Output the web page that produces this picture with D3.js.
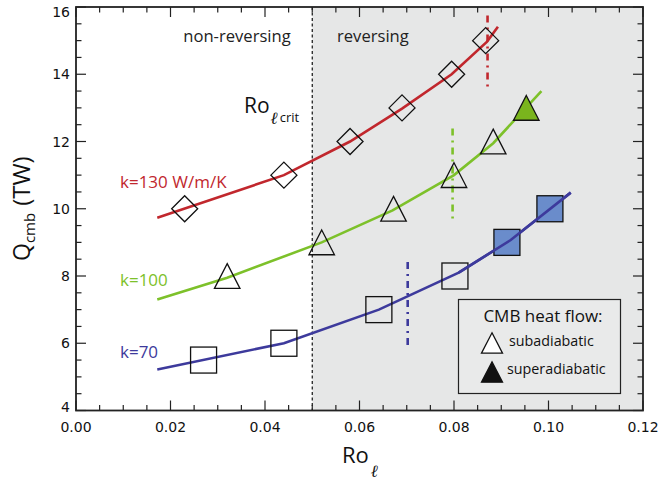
<!DOCTYPE html>
<html>
<head>
<meta charset="utf-8">
<script src="https://cdn.jsdelivr.net/npm/d3@7"></script>
<style>
  body { margin: 0; background: #fff; }
  text { font-family: "Open Sans", sans-serif; }
  .tick-label { font-family: "DejaVu Sans", sans-serif; font-size: 14px; fill: #111; }
</style>
</head>
<body>
<svg id="chart" width="659" height="481"></svg>
<script>
// series data
var k130Pts = [[0.023, 10], [0.044, 11], [0.058, 12], [0.069, 13], [0.0795, 14], [0.0867, 15]];
var k130Line = [[0.0172, 9.73], [0.044, 11.0], [0.058, 12.0], [0.069, 12.98], [0.0795, 14.0], [0.087, 14.97], [0.0893, 15.41]];

var k100Pts = [[0.032, 8], [0.052, 9], [0.0672, 10], [0.080, 11], [0.0883, 12]];
var k100Super = [[0.0953, 13]];
var k100Line = [[0.0172, 7.3], [0.032, 7.95], [0.052, 9.0], [0.067, 9.95], [0.080, 11.0], [0.0883, 11.95], [0.0985, 13.5]];

var k70Pts = [[0.027, 5.5], [0.044, 6.0], [0.0641, 7.0], [0.0802, 8.0]];
var k70Super = [[0.0912, 9.0], [0.1003, 10.0]];
var k70Line = [[0.0172, 5.22], [0.044, 6.0], [0.0641, 7.0], [0.081, 8.1], [0.092, 9.07], [0.1047, 10.48]];

// critical Ro_l for each k (dash-dot markers): x, y from, y to
var critLines = [
  {x: 0.0871, y0: 13.62, y1: 15.75, color: '#c1272d'},
  {x: 0.0797, y0: 9.58, y1: 12.39, color: '#7dc12a'},
  {x: 0.0702, y0: 5.8, y1: 8.42, color: '#3d3a9c'}
];

var xTicks = [0.00, 0.02, 0.04, 0.06, 0.08, 0.10, 0.12];
var yTicks = [4, 6, 8, 10, 12, 14, 16];
var roCrit = 0.05;

var red = '#c1272d', green = '#7dc12a', blue = '#3d3a9c';

var svg = d3.select('#chart');
var pL = 76, pR = 643, pT = 7, pB = 410.5;

var x = d3.scaleLinear().domain([0, 0.12]).range([pL, pR]);
var y = d3.scaleLinear().domain([4, 16]).range([pB, pT]);

// shaded reversing region
svg.append('rect')
  .attr('x', x(roCrit)).attr('y', pT)
  .attr('width', x(0.12) - x(roCrit)).attr('height', pB - pT)
  .style('fill', '#e6e7e7');

svg.append('line')
  .attr('x1', x(roCrit)).attr('x2', x(roCrit))
  .attr('y1', pT).attr('y2', pB)
  .style('stroke', '#111').style('stroke-width', 1.2)
  .style('stroke-dasharray', '3,2.5');

// axes, ticks pointing inward on all four sides
var xMinor = d3.range(0, 0.1201, 0.005);
var yMinor = d3.range(4, 16.01, 0.5);

function tickLen(v, step) {
  return Math.abs(v / step - Math.round(v / step)) < 1e-6 ? 10 : 5.5;
}

var axisG = svg.append('g').style('stroke', '#222').style('stroke-width', 1.2);
xMinor.forEach(function(v) {
  var l = tickLen(v, 0.02);
  axisG.append('line').attr('x1', x(v)).attr('x2', x(v)).attr('y1', pB).attr('y2', pB - l);
  axisG.append('line').attr('x1', x(v)).attr('x2', x(v)).attr('y1', pT).attr('y2', pT + l);
});
yMinor.forEach(function(v) {
  var l = tickLen(v, 2);
  axisG.append('line').attr('y1', y(v)).attr('y2', y(v)).attr('x1', pL).attr('x2', pL + l);
  axisG.append('line').attr('y1', y(v)).attr('y2', y(v)).attr('x1', pR).attr('x2', pR - l);
});
axisG.append('rect')
  .attr('x', pL).attr('y', pT).attr('width', pR - pL).attr('height', pB - pT)
  .style('fill', 'none').style('stroke-width', 1.8);

svg.selectAll('.xt').data(xTicks).enter().append('text')
  .attr('class', 'tick-label')
  .attr('x', function(d) { return x(d); })
  .attr('y', 432)
  .attr('text-anchor', 'middle')
  .text(function(d) { return d3.format('.2f')(d); });

// end labels are nudged inside the frame, as in the original
svg.selectAll('.yt').data(yTicks).enter().append('text')
  .attr('class', 'tick-label')
  .attr('x', 70)
  .attr('y', function(d) { return Math.min(Math.max(y(d) + 5, 17), 412); })
  .attr('text-anchor', 'end')
  .text(function(d) { return d; });

// fitted lines
var line = d3.line().x(function(d) { return x(d[0]); }).y(function(d) { return y(d[1]); });
[[k130Line, red], [k100Line, green], [k70Line, blue]].forEach(function(s) {
  svg.append('path').datum(s[0]).attr('d', line)
    .style('fill', 'none').style('stroke', s[1]).style('stroke-width', 2.6);
});

// dash-dot critical markers
svg.selectAll('.crit').data(critLines).enter().append('line')
  .attr('x1', function(d) { return x(d.x); }).attr('x2', function(d) { return x(d.x); })
  .attr('y1', function(d) { return y(d.y1); }).attr('y2', function(d) { return y(d.y0); })
  .style('stroke', function(d) { return d.color; })
  .style('stroke-width', 2.6)
  .style('stroke-dasharray', '7,5,2,5');

// markers
var mk = svg.append('g');
var triPath = function(cx, cy, s) {
  var h = s * 0.97;
  return 'M' + cx + ',' + (cy - h / 2) + 'L' + (cx + s / 2) + ',' + (cy + h / 2) + 'L' + (cx - s / 2) + ',' + (cy + h / 2) + 'Z';
};
mk.selectAll('.dia').data(k130Pts).enter().append('path')
  .attr('d', function(d) {
    var cx = x(d[0]), cy = y(d[1]), r = 13;
    return 'M' + cx + ',' + (cy - r) + 'L' + (cx + r) + ',' + cy + 'L' + cx + ',' + (cy + r) + 'L' + (cx - r) + ',' + cy + 'Z';
  })
  .style('fill', 'none').style('stroke', '#111').style('stroke-width', 1.3);

mk.selectAll('.tri').data(k100Pts).enter().append('path')
  .attr('d', function(d) { return triPath(x(d[0]), y(d[1]), 25.5); })
  .style('fill', 'none').style('stroke', '#111').style('stroke-width', 1.3);
mk.selectAll('.triS').data(k100Super).enter().append('path')
  .attr('d', function(d) { return triPath(x(d[0]), y(d[1]), 25.5); })
  .style('fill', '#7ab51d').style('stroke', '#111').style('stroke-width', 1.3);

mk.selectAll('.sq').data(k70Pts).enter().append('rect')
  .attr('x', function(d) { return x(d[0]) - 13; }).attr('y', function(d) { return y(d[1]) - 13; })
  .attr('width', 26).attr('height', 26)
  .style('fill', 'none').style('stroke', '#111').style('stroke-width', 1.3);
mk.selectAll('.sqS').data(k70Super).enter().append('rect')
  .attr('x', function(d) { return x(d[0]) - 13; }).attr('y', function(d) { return y(d[1]) - 13; })
  .attr('width', 26).attr('height', 26)
  .style('fill', '#6a8ccb').style('stroke', '#111').style('stroke-width', 1.3);

// redraw the superadiabatic-square line segment over the fill
svg.append('path').datum(k70Line.slice(3)).attr('d', line)
  .style('fill', 'none').style('stroke', blue).style('stroke-width', 2.6);

// labels
svg.append('text').attr('x', 237).attr('y', 42).attr('text-anchor', 'middle')
  .style('font-size', '16.6px').style('fill', '#222').text('non-reversing');
svg.append('text').attr('x', 337).attr('y', 42)
  .style('font-size', '16.6px').style('fill', '#222').text('reversing');

var rc = svg.append('text').attr('x', 244).attr('y', 113).style('fill', '#111');
rc.append('tspan').style('font-size', '21px').text('Ro');
rc.append('tspan').attr('dy', 11).attr('dx', 1).style('font-size', '17px').style('font-style', 'italic')
  .style('font-family', 'DejaVu Serif, serif').text('ℓ');
rc.append('tspan').attr('dy', -2).attr('dx', 2).style('font-size', '13px').text('crit');

svg.append('text').attr('x', 120).attr('y', 188).style('font-size', '17px').style('fill', red).text('k=130 W/m/K');
svg.append('text').attr('x', 120).attr('y', 286).style('font-size', '17px').style('fill', green).text('k=100');
svg.append('text').attr('x', 120).attr('y', 358).style('font-size', '17px').style('fill', blue).text('k=70');

// axis titles
var xl = svg.append('text').attr('x', 342).attr('y', 463).style('fill', '#111');
xl.append('tspan').style('font-size', '22px').text('Ro');
xl.append('tspan').attr('dy', 14).attr('dx', 2).style('font-size', '17px').style('font-style', 'italic')
  .style('font-family', 'DejaVu Serif, serif').text('ℓ');

var yl = svg.append('text').attr('transform', 'translate(30,261) rotate(-90)').style('fill', '#111');
yl.append('tspan').style('font-size', '23px').text('Q');
yl.append('tspan').attr('dy', 5).style('font-size', '15px').text('cmb');
yl.append('tspan').attr('dy', -5).attr('dx', 7).style('font-size', '24px').text('(TW)');

// legend
var lg = svg.append('g');
lg.append('rect').attr('x', 458.5).attr('y', 299.5).attr('width', 162).attr('height', 94)
  .style('fill', '#e9eaea').style('stroke', '#222').style('stroke-width', 1.2);
lg.append('text').attr('x', 543).attr('y', 322).attr('text-anchor', 'middle')
  .style('font-size', '17px').style('fill', '#111').text('CMB heat flow:');
lg.append('path').attr('d', triPath(492, 343, 21))
  .style('fill', '#fff').style('stroke', '#111').style('stroke-width', 1.3);
lg.append('text').attr('x', 509).attr('y', 346).style('font-size', '14.3px').style('fill', '#111').text('subadiabatic');
lg.append('path').attr('d', triPath(492, 372, 21))
  .style('fill', '#111').style('stroke', '#111').style('stroke-width', 1.3);
lg.append('text').attr('x', 507).attr('y', 374).style('font-size', '14.3px').style('fill', '#111').text('superadiabatic');
</script>
</body>
</html>
